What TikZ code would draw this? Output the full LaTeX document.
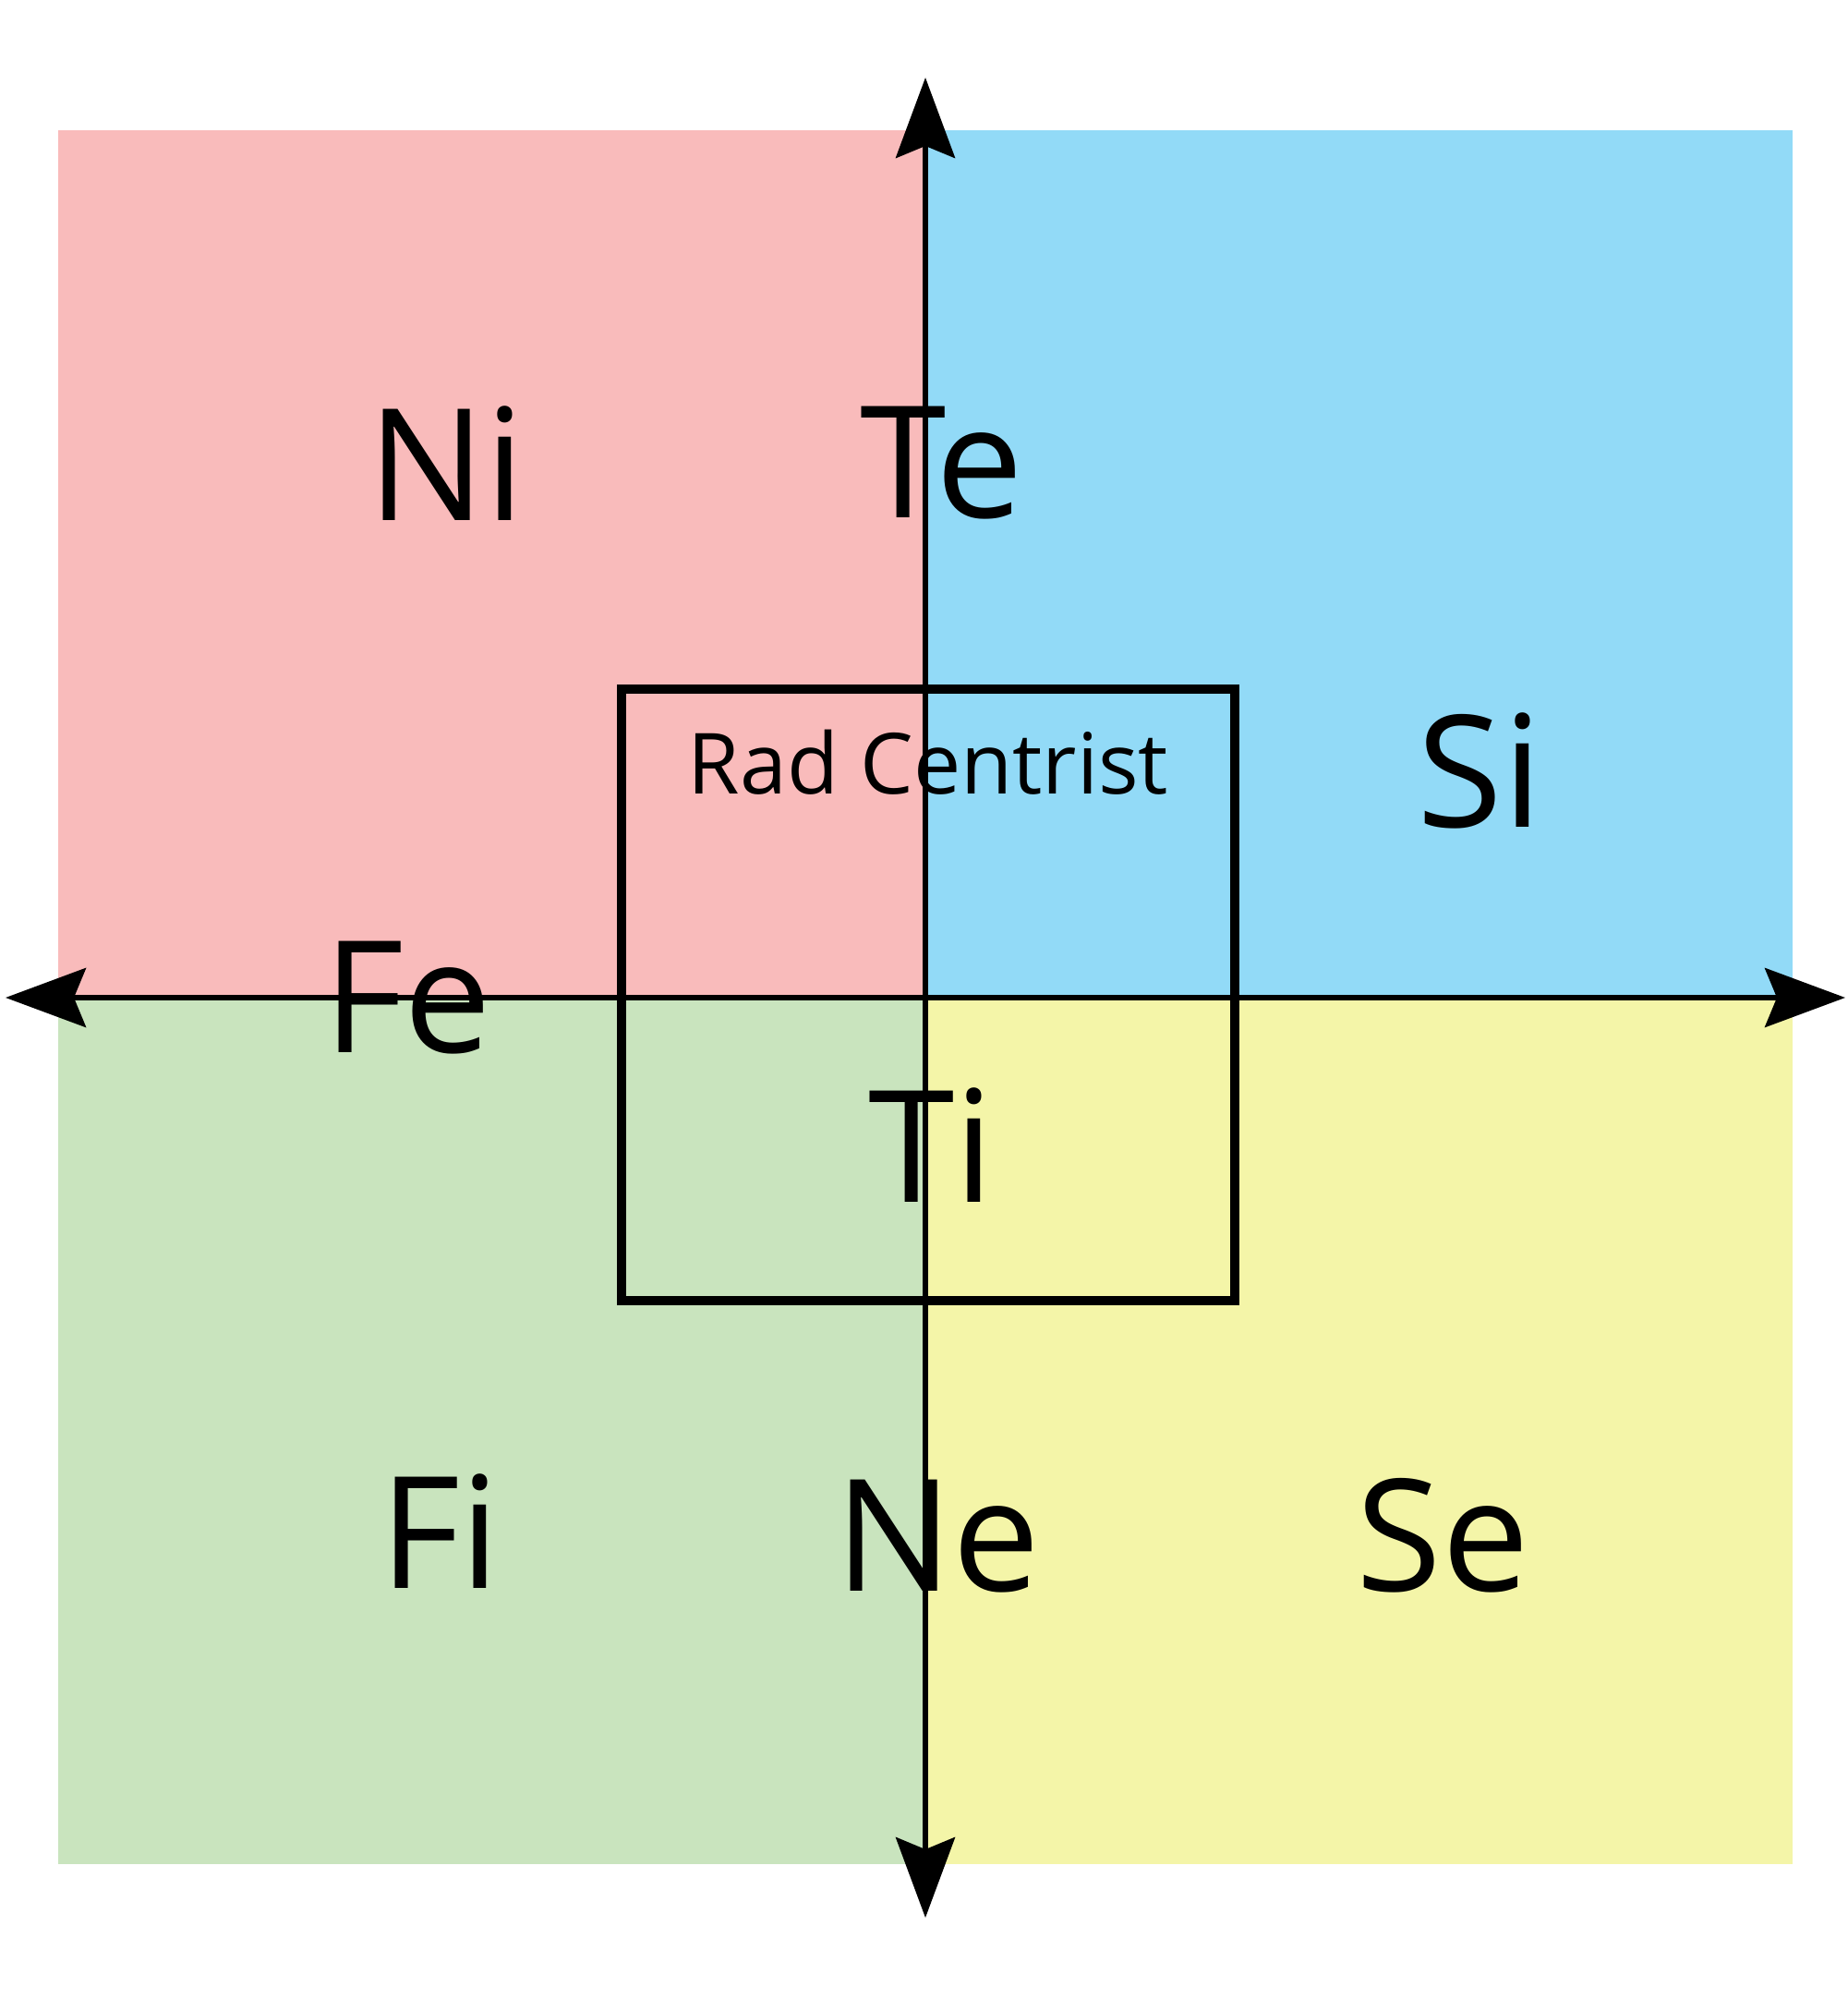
\documentclass[tikz,border=0pt]{standalone}
\usepackage{fontspec}
\setmainfont{Open Sans}
\usepackage{xcolor}
\usepackage{tikz}
\usetikzlibrary{arrows.meta}

\definecolor{quadred}{HTML}{F9BBBB}
\definecolor{quadblue}{HTML}{92DAF7}
\definecolor{quadgreen}{HTML}{C9E4BE}
\definecolor{quadyellow}{HTML}{F4F5A8}

\begin{document}
\begin{tikzpicture}[
    axis/.style={line width=1.6pt, {Stealth[length=8.7mm, width=6.4mm, inset=1.3mm]}-{Stealth[length=8.7mm, width=6.4mm, inset=1.3mm]}},
    biglabel/.style={font=\fontsize{48}{48}\selectfont, anchor=base, inner sep=0pt},
    smalllabel/.style={font=\fontsize{26}{26}\selectfont, anchor=base, inner sep=0pt}
]
    % Page frame
    \useasboundingbox (0,0) rectangle (20,-21.77);

    % Quadrants
    \fill[quadred] (0.63,-1.41) rectangle (10.02,-10.80);
    \fill[quadblue] (10.02,-1.41) rectangle (19.41,-10.80);
    \fill[quadgreen] (0.63,-10.80) rectangle (10.02,-20.18);
    \fill[quadyellow] (10.02,-10.80) rectangle (19.41,-20.18);

    % Quadrant labels
    \node[biglabel] (ni) at (4.83,-5.63) {Ni};
    \node[biglabel] (te) at (10.20,-5.60) {Te};
    \node[biglabel] (si) at (16.02,-8.95) {Si};
    \node[biglabel] (fe) at (4.41,-11.39) {Fe};
    \node[biglabel] (ti) at (10.08,-13.01) {Ti};
    \node[biglabel] (fi) at (4.76,-17.19) {Fi};
    \node[biglabel] (ne) at (10.15,-17.22) {Ne};
    \node[biglabel] (se) at (15.62,-17.22) {Se};

    % Centre box
    \draw[line width=2.85pt] (6.73,-7.46) rectangle (13.37,-14.08);
    \node[smalllabel] (radc) at (10.05,-8.59) {Rad Centrist};

    % Axes
    \coordinate (west) at (0.06,-10.80);
    \coordinate (east) at (19.98,-10.80);
    \coordinate (north) at (10.02,-0.84);
    \coordinate (south) at (10.02,-20.76);
    \draw[axis] (west) -- (east);
    \draw[axis] (south) -- (north);
\end{tikzpicture}
\end{document}
